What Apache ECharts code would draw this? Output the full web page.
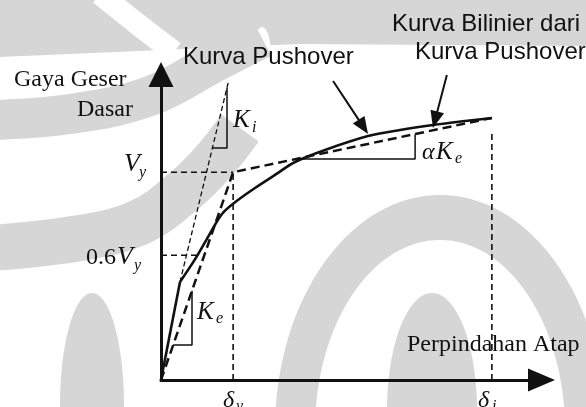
<!DOCTYPE html>
<html>
<head>
<meta charset="utf-8">
<title>Kurva Pushover</title>
<script src="https://cdn.jsdelivr.net/npm/echarts@6.0.0/dist/echarts.min.js"></script>
<style>
  html, body { margin: 0; padding: 0; background: #ffffff; }
  #chart { width: 586px; height: 407px; }
</style>
</head>
<body>
<div id="chart"></div>
<script>
// Base shear (y) against roof displacement (x), schematic units with V_y = 100.
const pushoverElastic = [[0, 0], [0.574, 47.2]];
const pushoverCurve = [
  [0.574, 47.2], [0.997, 57.3], [1.39, 67.9], [1.844, 79.9], [2.327, 86.6],
  [2.841, 92.4], [3.446, 98.7], [4.05, 104.9], [4.957, 110.7], [6.257, 117.4],
  [7.224, 120.3], [8.221, 122.7], [9.188, 124.6], [10.0, 126.1]
];
const bilinearCurve = [[0, 0], [2.18, 100], [10.0, 126.1]];
const initialStiffnessLine = [[0.574, 47.2], [2.03, 143]];

const yieldShear = 100;                 // V_y
const shearFraction = 0.6;              // 0.6 V_y marker
const yieldDisp = 2.18;                 // delta_y
const targetDisp = 10.0;                // delta_i
const targetMarkTop = 118.9;
const fractionMarkEnd = 1.1;

const kiTriangle = [[1.55, 111.6], [1.995, 111.6], [1.995, 140.7]];
const keTriangle = [[0.367, 16.8], [0.937, 16.8], [0.937, 43.0]];
const alphaKeTriangle = [[4.10, 106.4], [7.68, 106.4], [7.68, 118.3]];

// pointer arrows: [fromX, fromY, toX, toY]
const pointerArrows = [[5.20, 143.9, 6.257, 118.4], [8.64, 146.8, 8.22, 121.3]];

const xAxisMax = 11.5;
const yAxisMax = 147;

const INK = '#111111';
const SHADE = '#d6d6d6';
const SERIF = '"Liberation Serif", "DejaVu Serif", serif';
const SANS = '"Liberation Sans", Arial, sans-serif';

const chart = echarts.init(document.getElementById('chart'), null, { renderer: 'canvas' });

function lineSeries(data, width, dash, smooth) {
  return {
    type: 'line', data: data, symbol: 'none', silent: true, smooth: smooth || false,
    clip: false, z: 3,
    lineStyle: { color: INK, width: width, type: dash || 'solid', cap: 'butt' }
  };
}

// text placed by its baseline
function label(text, x, baseline, size, family, style) {
  return {
    type: 'text', x: x, y: baseline - 0.305 * size, z: 20, silent: true,
    style: {
      text: text, fill: INK, align: 'left', verticalAlign: 'middle',
      font: (style || 'normal') + ' ' + size + 'px ' + family
    }
  };
}

function oval(cx, cy, rx, ry, fill, z) {
  return { type: 'ellipse', z: z, silent: true, shape: { cx: cx, cy: cy, rx: rx, ry: ry }, style: { fill: fill } };
}
function stroke(points, width, color, z) {
  return { type: 'polyline', z: z, silent: true, shape: { points: points, smooth: 0.4 },
    style: { stroke: color, lineWidth: width, fill: null, lineCap: 'butt' } };
}

// faint emblem in the background
const emblem = [
  oval(440, 430, 165, 235, SHADE, -30),
  oval(440, 430, 125, 190, '#ffffff', -29),
  oval(432, 410, 45, 117, SHADE, -28),
  { type: 'polygon', z: -27, silent: true,
    shape: { points: [[0, 0], [586, 0], [586, 46], [300, 44], [0, 57]] }, style: { fill: SHADE } },
  stroke([[100, -6], [140, 26], [174, 52]], 22, '#ffffff', -26),
  oval(262, 55, 9, 28, '#ffffff', -25),
  stroke([[-10, 120], [70, 114], [150, 96], [215, 62], [262, 38]], 40, SHADE, -24),
  stroke([[-10, 248], [80, 238], [140, 222], [185, 190], [215, 160], [240, 128]], 46, SHADE, -23),
  oval(92, 405, 32, 112, SHADE, -22)
];

const texts = [
  label('Gaya Geser', 14, 87, 24, SERIF),
  label('Dasar', 77, 117, 24, SERIF),
  label('Kurva Pushover', 183, 65, 24, SANS),
  label('Kurva Bilinier dari', 392, 32, 24, SANS),
  label('Kurva Pushover', 415, 60, 24, SANS),
  label('Perpindahan Atap', 407, 352, 24, SERIF),
  label('V', 124, 172, 26, SERIF, 'italic'),
  label('y', 139, 178, 16, SERIF, 'italic'),
  label('0.6', 86, 265, 24, SERIF),
  label('V', 117, 265, 26, SERIF, 'italic'),
  label('y', 134, 271, 16, SERIF, 'italic'),
  label('K', 233, 128, 25, SERIF, 'italic'),
  label('i', 252, 133, 16, SERIF, 'italic'),
  label('K', 197, 320, 25, SERIF, 'italic'),
  label('e', 216, 324, 16, SERIF, 'italic'),
  label('\u03b1', 422, 160, 24, SERIF, 'italic'),
  label('K', 436, 160, 25, SERIF, 'italic'),
  label('e', 455, 164, 16, SERIF, 'italic'),
  label('\u03b4', 223, 408, 24, SERIF, 'italic'),
  label('y', 236, 412, 16, SERIF, 'italic'),
  label('\u03b4', 478, 408, 24, SERIF, 'italic'),
  label('i', 492, 412, 16, SERIF, 'italic')
];

const fractionLevel = shearFraction * yieldShear;

const option = {
  animation: false,
  backgroundColor: '#ffffff',
  grid: { left: 161, right: 44.5, top: 74.5, bottom: 27, containLabel: false },
  xAxis: {
    type: 'value', min: 0, max: xAxisMax,
    axisLine: { show: true, onZero: false, symbol: ['none', 'triangle'], symbolSize: [23, 27],
      lineStyle: { color: INK, width: 3 } },
    axisTick: { show: false }, axisLabel: { show: false }, splitLine: { show: false }
  },
  yAxis: {
    type: 'value', min: 0, max: yAxisMax,
    axisLine: { show: true, onZero: false, symbol: ['none', 'triangle'], symbolSize: [25, 25],
      lineStyle: { color: INK, width: 3 } },
    axisTick: { show: false }, axisLabel: { show: false }, splitLine: { show: false }
  },
  graphic: { elements: emblem.concat(texts) },
  series: [
    lineSeries([[0, yieldShear], [yieldDisp, yieldShear]], 1.6, [6, 4]),
    lineSeries([[0, fractionLevel], [fractionMarkEnd, fractionLevel]], 1.6, [6, 4]),
    lineSeries([[yieldDisp, 0], [yieldDisp, yieldShear]], 1.6, [6, 4]),
    lineSeries([[targetDisp, 0], [targetDisp, targetMarkTop]], 1.6, [6, 4]),
    lineSeries(initialStiffnessLine, 1.3, [5, 3]),
    lineSeries(kiTriangle, 1.5),
    lineSeries(keTriangle, 1.5),
    lineSeries(alphaKeTriangle, 1.5),
    lineSeries(bilinearCurve, 2.5, [9, 5]),
    lineSeries(pushoverElastic, 2.6),
    lineSeries(pushoverCurve, 2.6, 'solid', 0.3),
    {
      type: 'custom', coordinateSystem: 'cartesian2d', data: pointerArrows, clip: false, silent: true, z: 5,
      encode: { x: [0, 2], y: [1, 3] },
      renderItem: function (params, api) {
        const a = api.coord([api.value(0), api.value(1)]);
        const b = api.coord([api.value(2), api.value(3)]);
        const dx = b[0] - a[0], dy = b[1] - a[1];
        const len = Math.sqrt(dx * dx + dy * dy);
        const ux = dx / len, uy = dy / len;
        const headLen = 17, headHalf = 7;
        const bx = b[0] - ux * headLen, by = b[1] - uy * headLen;
        return {
          type: 'group',
          children: [
            { type: 'line', shape: { x1: a[0], y1: a[1], x2: bx + ux * 2, y2: by + uy * 2 },
              style: { stroke: INK, lineWidth: 2 } },
            { type: 'polygon',
              shape: { points: [[b[0], b[1]], [bx - uy * headHalf, by + ux * headHalf], [bx + uy * headHalf, by - ux * headHalf]] },
              style: { fill: INK } }
          ]
        };
      }
    }
  ]
};

chart.setOption(option);
</script>
</body>
</html>
